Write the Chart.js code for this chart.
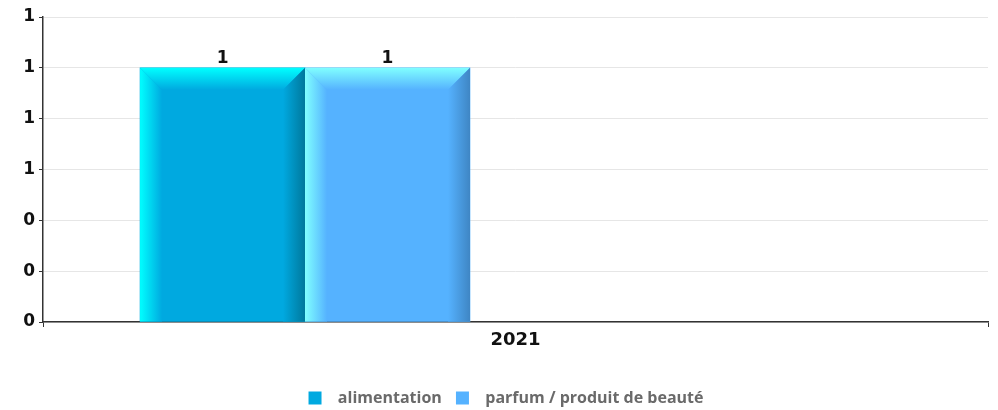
<!DOCTYPE html>
<html>
<head>
<meta charset="utf-8">
<script src="https://cdn.jsdelivr.net/npm/chart.js@4.4.0/dist/chart.umd.min.js"></script>
<style>
  html, body { margin: 0; padding: 0; background: #fff; }
  #wrap { width: 998px; height: 410px; }
</style>
</head>
<body>
<div id="wrap"><canvas id="chart"></canvas></div>
<script>
// data
const categories = ['2021'];
const seriesNames = ['alimentation', 'parfum / produit de beauté'];
const alimentation = [1];
const parfum = [1];
const yMin = 0;
const yMax = 1.2;
const yStep = 0.2;

const shades = [
  { main: '#00a9e0', light: '#00ffff', dark: '#00789c' },
  { main: '#55b2ff', light: '#80ffff', dark: '#3f86c4' },
];

// bevel look of the original bars, drawn on top of the bar elements
const bevelPlugin = {
  id: 'bevel',
  afterDatasetsDraw(chart) {
    const ctx = chart.ctx;
    chart.data.datasets.forEach((ds, di) => {
      if (!ds.shade) return;
      chart.getDatasetMeta(di).data.forEach((bar, i) => {
        if (bar.skip) return;
        const l = bar.x - bar.width / 2, r = bar.x + bar.width / 2;
        const t = bar.y, b = bar.base, e = 22;
        const s = ds.shade;
        ctx.save();
        let g = ctx.createLinearGradient(l, 0, l + e, 0);
        g.addColorStop(0, s.light); g.addColorStop(1, s.main);
        ctx.fillStyle = g;
        ctx.beginPath();
        ctx.moveTo(l, t); ctx.lineTo(l + e, t + e); ctx.lineTo(l + e, b); ctx.lineTo(l, b);
        ctx.closePath(); ctx.fill();

        g = ctx.createLinearGradient(0, t, 0, t + e);
        g.addColorStop(0, s.light); g.addColorStop(1, s.main);
        ctx.fillStyle = g;
        ctx.beginPath();
        ctx.moveTo(l, t); ctx.lineTo(r, t); ctx.lineTo(r - e, t + e); ctx.lineTo(l + e, t + e);
        ctx.closePath(); ctx.fill();

        g = ctx.createLinearGradient(r - e, 0, r, 0);
        g.addColorStop(0, s.main); g.addColorStop(1, s.dark);
        ctx.fillStyle = g;
        ctx.beginPath();
        ctx.moveTo(r, t); ctx.lineTo(r, b); ctx.lineTo(r - e, b); ctx.lineTo(r - e, t + e);
        ctx.closePath(); ctx.fill();

        // value on top
        ctx.fillStyle = '#111';
        ctx.font = 'bold 17px "DejaVu Sans"';
        ctx.textAlign = 'center';
        ctx.textBaseline = 'bottom';
        ctx.fillText(String(ds.data[i]), bar.x, t - 1);
        ctx.restore();
      });
    });
  }
};

// the original draws the pair left of the category centre: two empty slots
// plus per-dataset thickness put the bars where they are in the picture
const datasets = [
  { label: seriesNames[0], data: alimentation, backgroundColor: shades[0].main, shade: shades[0],
    barThickness: 195.3, maxBarThickness: 165 },
  { label: seriesNames[1], data: parfum, backgroundColor: shades[1].main, shade: shades[1],
    barThickness: 256, maxBarThickness: 165 },
  { label: '', data: [null], spacer: true, barThickness: 165 },
  { label: '', data: [null], spacer: true, barThickness: 165 },
];

new Chart(document.getElementById('chart'), {
  type: 'bar',
  data: { labels: categories, datasets: datasets },
  plugins: [bevelPlugin],
  options: {
    responsive: true,
    maintainAspectRatio: false,
    animation: false,
    layout: { padding: { left: 24, right: 10, top: 17, bottom: -6 } },
    plugins: {
      tooltip: { enabled: false },
      legend: {
        position: 'bottom',
        labels: {
          boxWidth: 13,
          boxHeight: 13,
          padding: 10,
          color: '#6a6a6a',
          font: { family: '"Open Sans"', size: 16, weight: 'bold' },
          filter: (item, data) => !data.datasets[item.datasetIndex].spacer,
          generateLabels: (chart) =>
            Chart.defaults.plugins.legend.labels.generateLabels(chart).map((it, k) => {
              it.text = '  ' + it.text + (k === 0 ? ' ' : '');
              it.lineWidth = 0;
              return it;
            }),
        },
      },
    },
    scales: {
      x: {
        grid: { drawOnChartArea: false, drawTicks: true, tickLength: 5, tickColor: '#333', offset: true },
        border: { color: '#333', width: 1.5 },
        ticks: { color: '#111', padding: 3, font: { family: '"DejaVu Sans"', size: 18, weight: 'bold' } },
        afterFit: (s) => { s.height = 58; },
      },
      y: {
        min: yMin,
        max: yMax,
        ticks: {
          stepSize: yStep,
          color: '#111',
          padding: 4,
          font: { family: '"DejaVu Sans"', size: 17, weight: 'bold' },
          callback: (v) => Math.round(v),
        },
        grid: { color: '#e6e6e6', tickColor: '#333', tickLength: 4 },
        border: { color: '#333', width: 1.5 },
        afterFit: (s) => { s.width = 19; },
      },
    },
  },
});
</script>
</body>
</html>
